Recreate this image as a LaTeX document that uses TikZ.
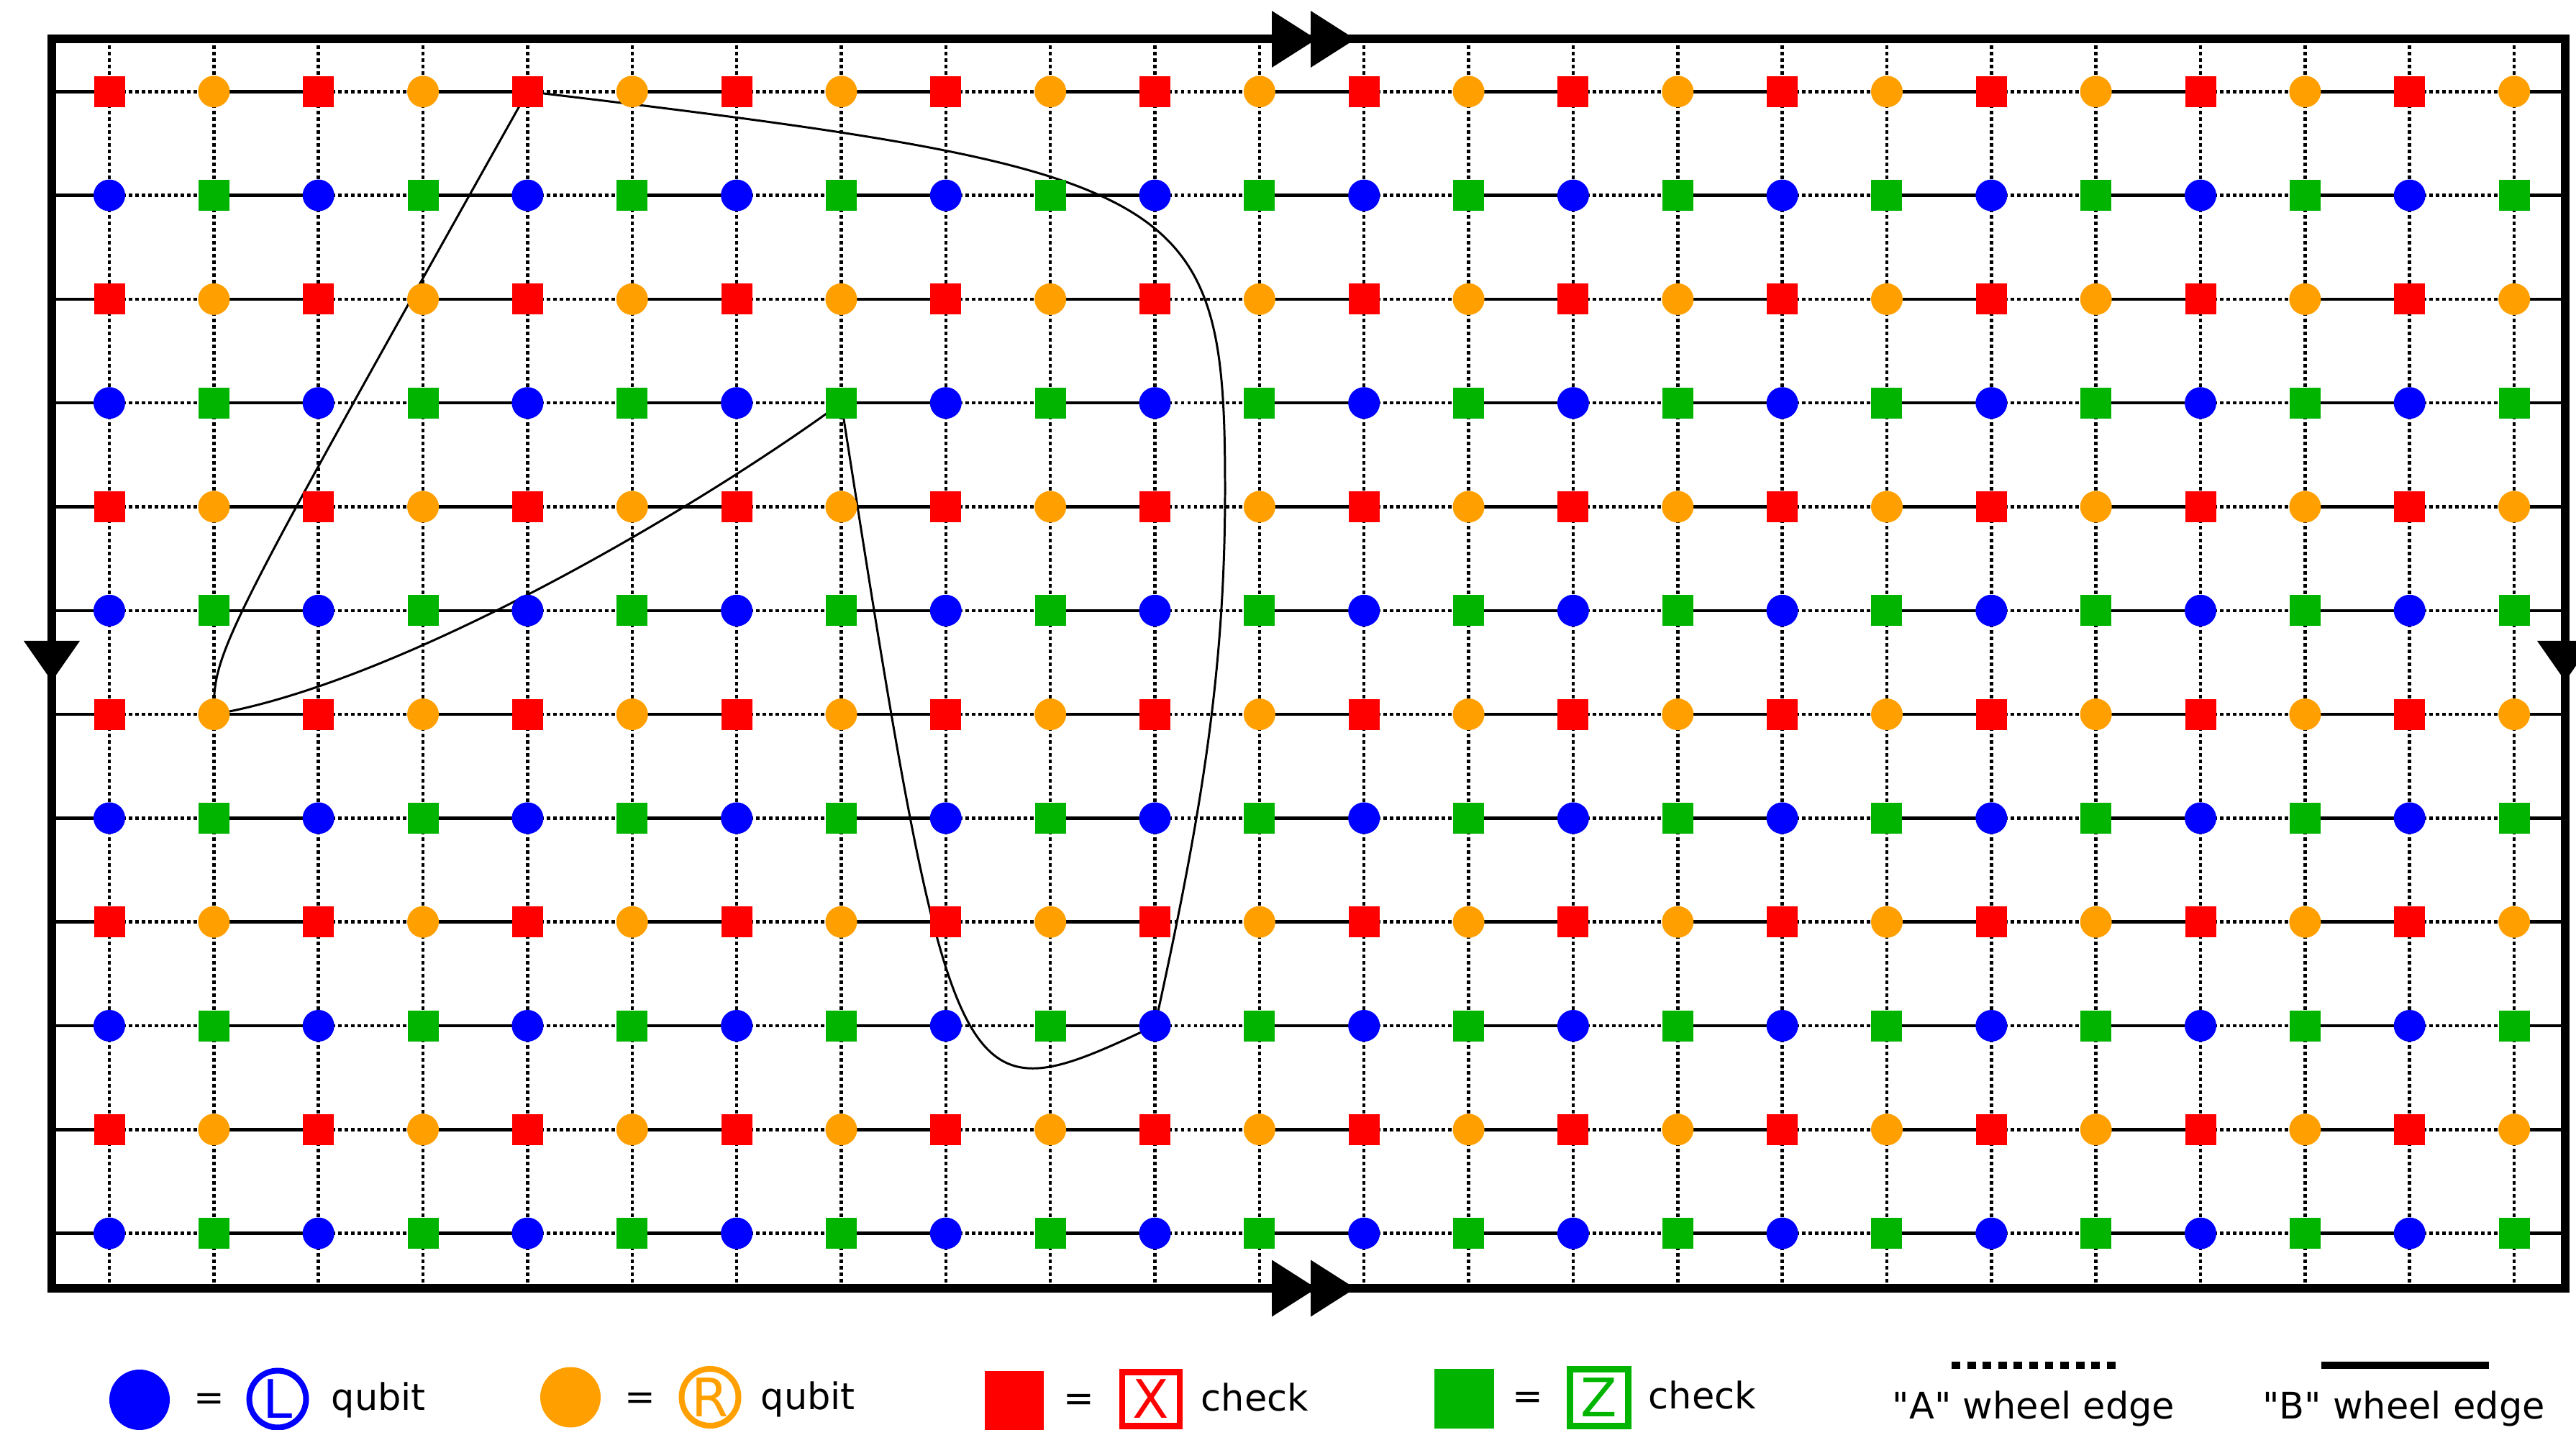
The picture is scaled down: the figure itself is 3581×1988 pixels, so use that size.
\documentclass[tikz,border=0pt]{standalone}
\usepackage{fontspec}
\setmainfont{DejaVu Sans}[Ligatures=TeXOff]
\pgfdeclarelayer{bg}
\pgfsetlayers{bg,main}
\definecolor{qred}{RGB}{255,0,0}
\definecolor{qorange}{RGB}{255,160,0}
\definecolor{qblue}{RGB}{0,0,255}
\definecolor{qgreen}{RGB}{0,180,0}
\begin{document}
\begin{tikzpicture}[x=0.1mm,y=-0.1mm,
  xsq/.style={rectangle,fill=qred,minimum size=4.3mm,inner sep=0pt},
  zsq/.style={rectangle,fill=qgreen,minimum size=4.3mm,inner sep=0pt},
  lq/.style={circle,fill=qblue,minimum size=4.4mm,inner sep=0pt},
  rq/.style={circle,fill=qorange,minimum size=4.4mm,inner sep=0pt},
  aedge/.style={line width=1.28pt,dash pattern=on 1.42pt off 1.14pt},
  bedge/.style={line width=1.28pt},
  loopline/.style={line width=0.85pt},
  framel/.style={line width=3.41pt},
  lbl/.style={font=\fontsize{14.5}{17.4}\selectfont,inner sep=0pt},
  big/.style={font=\fontsize{21}{21}\selectfont,inner sep=0pt},
]
\useasboundingbox (0,0) rectangle (3581,1988);

% lattice nodes
\foreach \r in {0,...,11}{
  \foreach \c in {0,...,23}{
    \pgfmathsetmacro\xx{152+145.35*\c}
    \pgfmathsetmacro\yy{127.3+144.3*\r}
    \pgfmathtruncatemacro\rp{mod(\r,2)}
    \pgfmathtruncatemacro\cp{mod(\c,2)}
    \ifnum\rp=0
      \ifnum\cp=0
        \node[xsq] (n-\r-\c) at (\xx,\yy) {};
      \else
        \node[rq] (n-\r-\c) at (\xx,\yy) {};
      \fi
    \else
      \ifnum\cp=0
        \node[lq] (n-\r-\c) at (\xx,\yy) {};
      \else
        \node[zsq] (n-\r-\c) at (\xx,\yy) {};
      \fi
    \fi
  }
}

\begin{pgfonlayer}{bg}
\foreach \r in {0,...,11}{
  \pgfmathsetmacro\yy{127.3+144.3*\r}
  \coordinate (fl-\r) at (72,\yy);
  \coordinate (fr-\r) at (3566,\yy);
  \draw[bedge] (fl-\r) -- (n-\r-0.center);
  \draw[bedge] (n-\r-23.center) -- (fr-\r);
  \foreach \c in {0,...,22}{
    \pgfmathtruncatemacro\cn{\c+1}
    \pgfmathtruncatemacro\cp{mod(\c,2)}
    \ifnum\cp=0
      \draw[aedge] (n-\r-\c.center) -- (n-\r-\cn.center);
    \else
      \draw[bedge] (n-\r-\c.center) -- (n-\r-\cn.center);
    \fi
  }
}
\foreach \c in {0,...,23}{
  \pgfmathsetmacro\xx{152+145.35*\c}
  \coordinate (ft-\c) at (\xx,54.5);
  \coordinate (fb-\c) at (\xx,1791);
  \draw[aedge] (ft-\c) -- (n-0-\c.center);
  \draw[aedge] (n-11-\c.center) -- (fb-\c);
  \foreach \r in {0,...,10}{
    \pgfmathtruncatemacro\rn{\r+1}
    \draw[aedge] (n-\r-\c.center) -- (n-\rn-\c.center);
  }
}
% loop
\draw[loopline] (n-0-4.center) .. controls (300,900) and (297,905) .. (n-6-1.center);
\draw[loopline] (n-6-1.center) .. controls (550,950) and (950,720) .. (n-3-7.center);
\draw[loopline] (n-3-7.center) .. controls (1325,1555) and (1330,1555) .. (n-9-10.center);
\draw[loopline] (n-9-10.center) .. controls (1671.5,1126) and (1703,930) .. (1703,680)
   .. controls (1703,265) and (1654.5,237) .. (n-0-4.center);
\end{pgfonlayer}

% frame and identification arrows
\draw[framel] (72,54.5) rectangle (3566,1791);
\fill (1768,15) -- (1830,54.5) -- (1768,94) -- cycle;
\fill (1822,15) -- (1884,54.5) -- (1822,94) -- cycle;
\fill (1768,1751.5) -- (1830,1791) -- (1768,1830.5) -- cycle;
\fill (1822,1751.5) -- (1884,1791) -- (1822,1830.5) -- cycle;
\fill (33,891) -- (111,891) -- (72,947) -- cycle;
\fill (3527,891) -- (3605,891) -- (3566,947) -- cycle;

% legend
\node[lq,minimum size=8.4mm] (legL) at (194,1946) {};
\node[lbl,anchor=base] (eqL) at (291,1960) {=};
\node[circle,draw=qblue,line width=2.28pt,minimum size=7.9mm,inner sep=0pt,text=qblue,big] (cL) at (386,1945) {L};
\node[lbl,anchor=base west] (tL) at (460,1960) {qubit};

\node[rq,minimum size=8.4mm] (legR) at (793,1942.5) {};
\node[lbl,anchor=base] (eqR) at (890,1959) {=};
\node[circle,draw=qorange,line width=2.28pt,minimum size=7.9mm,inner sep=0pt,text=qorange,big] (cR) at (987,1942.5) {R};
\node[lbl,anchor=base west] (tR) at (1057,1959) {qubit};

\node[xsq,minimum size=8.2mm] (legX) at (1410,1947) {};
\node[lbl,anchor=base] (eqX) at (1500,1961) {=};
\node[rectangle,draw=qred,line width=2.5pt,minimum width=8.0mm,minimum height=7.5mm,inner sep=0pt,text=qred,big] (cX) at (1600,1945) {X};
\node[lbl,anchor=base west] (tX) at (1669,1961) {check};

\node[zsq,minimum size=8.3mm] (legZ) at (2035.5,1944.5) {};
\node[lbl,anchor=base] (eqZ) at (2124,1958) {=};
\node[rectangle,draw=qgreen,line width=2.5pt,minimum width=8.1mm,minimum height=7.9mm,inner sep=0pt,text=qgreen,big] (cZ) at (2223,1943) {Z};
\node[lbl,anchor=base west] (tZ) at (2291,1958) {check};

\coordinate (la1) at (2713,1898);
\coordinate (la2) at (2941,1898);
\draw[line width=2.85pt,dash pattern=on 3.41pt off 2.73pt] (la1) -- (la2);
\node[lbl,anchor=base] (tA) at (2827,1972) {"A" wheel edge};
\coordinate (lb1) at (3227,1898);
\coordinate (lb2) at (3460,1898);
\draw[line width=2.85pt] (lb1) -- (lb2);
\node[lbl,anchor=base] (tB) at (3341.5,1972) {"B" wheel edge};
\end{tikzpicture}
\end{document}
